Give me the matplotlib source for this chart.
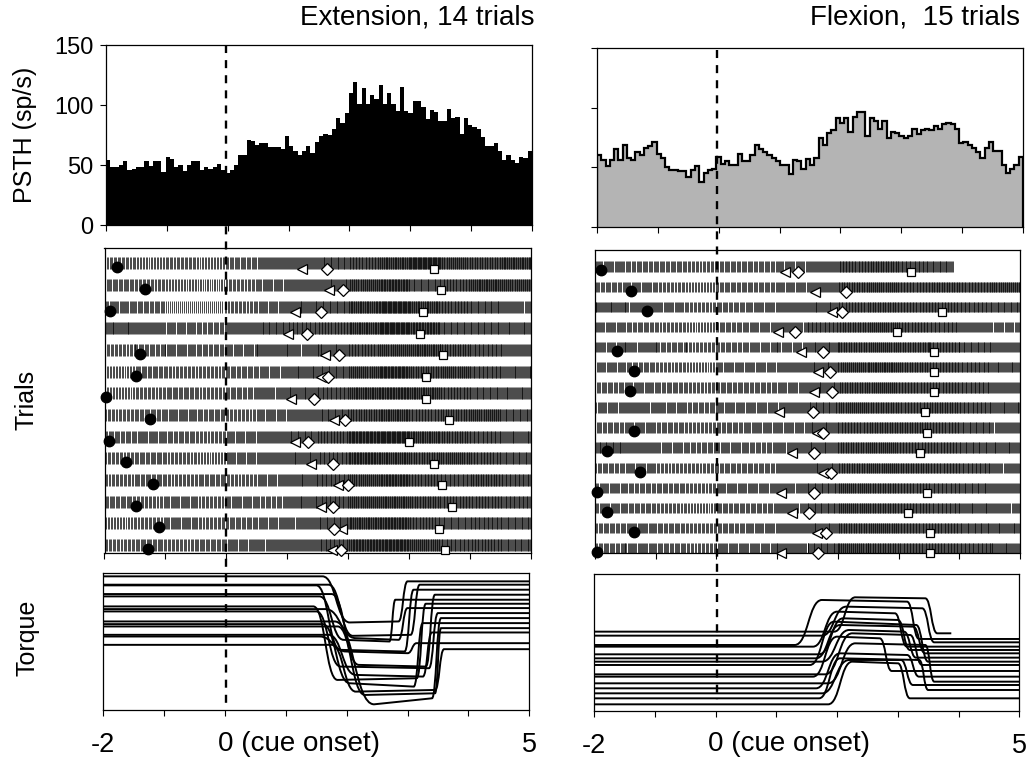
import numpy as np
import matplotlib
matplotlib.use('Agg')
import matplotlib.pyplot as plt
from matplotlib.path import Path
from matplotlib.patches import PathPatch
from matplotlib.lines import Line2D

plt.rcParams['font.family'] = ['Liberation Sans', 'DejaVu Sans']

# ---------------- data ----------------
T0, T1 = -2.0, 5.0

ext_psth = [54, 48, 48, 50, 53, 46, 47, 48, 48, 53, 49, 53, 53, 44, 57, 55, 48, 50, 45, 50,
            53, 53, 46, 48, 47, 48, 51, 46, 43, 46, 50, 58, 58, 71, 70, 67, 68, 68, 65, 65,
            65, 63, 74, 66, 62, 58, 62, 66, 60, 69, 74, 76, 75, 80, 89, 85, 93, 110, 119, 101,
            114, 101, 108, 105, 117, 101, 110, 101, 95, 115, 95, 93, 103, 103, 98, 88, 96, 94, 87, 87,
            97, 89, 90, 76, 89, 83, 82, 80, 73, 66, 66, 68, 62, 54, 58, 54, 52, 57, 56, 62]

flx_psth = [60, 56, 51, 56, 65, 56, 69, 58, 56, 63, 60, 66, 68, 71, 61, 58, 50, 48, 48, 47,
            47, 42, 48, 51, 38, 45, 48, 49, 59, 53, 55, 52, 52, 61, 55, 55, 60, 69, 65, 63,
            60, 58, 55, 52, 52, 44, 56, 55, 49, 57, 52, 58, 75, 69, 79, 81, 91, 87, 91, 80,
            92, 96, 96, 76, 91, 89, 82, 89, 75, 80, 79, 76, 75, 76, 82, 78, 81, 82, 81, 85,
            82, 86, 87, 86, 82, 70, 71, 69, 66, 63, 58, 66, 71, 64, 64, 52, 45, 49, 52, 59]

# behavioural events per trial (s re cue onset); nan = not shown
ext_circle = [-1.80, -1.34, -1.91, np.nan, -1.41, -1.48, -1.97, -1.26, -1.92, -1.64, -1.21, -1.49, -1.10, -1.29]
ext_tri = [1.24, 1.69, 1.12, 1.01, 1.62, 1.55, 1.06, 1.77, 1.13, 1.39, 1.83, 1.55, 1.90, 1.74]
ext_dia = [1.66, 1.92, 1.55, 1.32, 1.85, 1.67, 1.44, 1.95, 1.34, 1.75, 1.99, 1.75, 1.76, 1.88]
ext_sq = [3.41, 3.52, 3.23, 3.18, 3.56, 3.28, 3.28, 3.66, 2.99, 3.40, 3.54, 3.71, 3.49, 3.59]

flx_circle = [-1.90, -1.40, -1.14, np.nan, -1.64, -1.36, -1.42, np.nan, -1.36, -1.81, -1.26, -1.97, -1.81, -1.36, -1.97]
flx_tri = [1.13, 1.62, 1.91, 1.02, 1.40, 1.68, 1.61, 1.03, 1.66, 1.24, 1.76, 1.06, 1.25, 1.66, 1.06]
flx_dia = [1.35, 2.14, 2.06, 1.29, 1.76, 1.87, 1.91, 1.59, 1.75, 1.61, 1.88, 1.60, 1.52, 1.80, 1.68]
flx_sq = [3.21, np.nan, 3.71, 2.98, 3.58, 3.58, 3.58, 3.43, 3.47, 3.36, np.nan, 3.47, 3.15, 3.52, 3.52]
flx_end = [3.90] + [5.0] * 14

# per-trial firing rate (sp/s) in 0.5 s segments from -2 to 5 (read from raster darkness)
ext_rates = [
    [45, 40, 45, 40, 50, 60, 60, 70, 80, 95, 110, 90, 85, 95],
    [50, 45, 40, 35, 45, 55, 60, 65, 90, 100, 70, 80, 95, 90],
    [55, 50, 30, 30, 45, 55, 65, 70, 95, 110, 95, 80, 70, 60],
    [65, 60, 55, 50, 60, 70, 75, 80, 95, 110, 100, 70, 70, 65],
    [45, 50, 55, 50, 55, 60, 60, 65, 80, 90, 95, 85, 75, 60],
    [40, 50, 45, 45, 50, 55, 65, 70, 90, 105, 85, 90, 75, 65],
    [40, 45, 50, 45, 50, 60, 65, 75, 95, 100, 95, 80, 70, 65],
    [45, 50, 55, 50, 45, 55, 60, 70, 85, 95, 80, 85, 90, 70],
    [50, 55, 50, 45, 55, 60, 70, 80, 105, 110, 95, 85, 75, 65],
    [45, 50, 45, 40, 55, 60, 65, 75, 100, 95, 85, 90, 80, 70],
    [45, 50, 45, 50, 45, 55, 65, 75, 90, 100, 80, 75, 85, 75],
    [50, 45, 55, 45, 55, 50, 65, 75, 90, 95, 85, 80, 80, 75],
    [40, 45, 55, 45, 50, 55, 60, 70, 95, 100, 80, 70, 75, 70],
    [45, 50, 45, 50, 55, 60, 60, 75, 100, 105, 90, 75, 80, 70],
]
flx_rates = [
    [55, 50, 50, 45, 50, 50, 55, 60, 80, 85, 75, 70, 0, 0],
    [50, 55, 45, 40, 50, 50, 55, 60, 85, 90, 80, 85, 80, 90],
    [65, 60, 55, 45, 50, 55, 60, 65, 80, 85, 80, 80, 75, 70],
    [55, 50, 45, 40, 50, 55, 60, 75, 85, 90, 80, 75, 60, 55],
    [55, 60, 50, 45, 50, 55, 55, 65, 85, 90, 85, 80, 70, 60],
    [55, 50, 45, 40, 55, 55, 60, 65, 90, 95, 85, 80, 75, 65],
    [50, 55, 50, 45, 50, 50, 55, 65, 85, 90, 80, 80, 75, 60],
    [55, 60, 55, 50, 55, 55, 60, 70, 90, 85, 80, 85, 75, 65],
    [50, 55, 50, 45, 50, 55, 55, 65, 80, 85, 85, 80, 70, 60],
    [70, 60, 55, 50, 55, 50, 60, 65, 85, 90, 80, 80, 70, 65],
    [50, 55, 45, 45, 50, 50, 60, 65, 85, 90, 85, 80, 75, 60],
    [55, 50, 50, 45, 55, 55, 60, 70, 90, 85, 80, 75, 70, 60],
    [55, 50, 45, 40, 50, 50, 60, 70, 90, 85, 80, 75, 65, 60],
    [50, 55, 50, 45, 50, 55, 60, 65, 85, 90, 80, 80, 70, 65],
    [50, 55, 50, 45, 55, 55, 60, 70, 90, 85, 80, 80, 75, 65],
]

# torque traces: baseline, move start, move end, level at move end, return start,
# return end, level before return, final level (arbitrary units)
ext_torque = [
    (400, 1.60, 2.05, 262, 2.85, 3.00, 265, 385),
    (375, 1.70, 2.10, 222, 3.05, 3.20, 225, 375),
    (373, 1.50, 1.90, 180, 2.95, 3.10, 175, 360),
    (347, 1.75, 2.20, 135, 3.30, 3.45, 130, 345),
    (340, 1.55, 1.95, 210, 2.70, 2.80, 205, 330),
    (310, 1.45, 1.85, 90, 3.15, 3.30, 95, 318),
    (302, 1.65, 2.15, 215, 2.85, 3.00, 210, 305),
    (295, 1.50, 1.90, 130, 3.35, 3.50, 125, 290),
    (265, 1.80, 2.45, 17, 3.40, 3.55, 35, 275),
    (257, 1.60, 2.05, 80, 3.10, 3.25, 70, 260),
    (250, 1.85, 2.30, 45, 3.45, 3.55, 50, 245),
    (225, 1.70, 2.15, 105, 3.25, 3.40, 100, 232),
    (220, 1.55, 2.00, 175, 3.00, 3.15, 170, 200),
    (195, 1.75, 2.15, 55, 3.45, 3.60, 60, 182),
]
flx_torque = [
    (235, 1.95, 2.30, 338, 3.45, 3.65, 335, 230),
    (195, 1.30, 1.75, 330, 3.15, 3.35, 325, 213),
    (223, 1.75, 2.15, 310, 3.40, 3.60, 305, 203),
    (190, 1.60, 2.00, 295, 2.95, 3.15, 290, 190),
    (167, 1.70, 2.10, 275, 3.00, 3.20, 270, 180),
    (155, 1.65, 2.05, 255, 3.25, 3.45, 250, 170),
    (145, 1.75, 2.20, 240, 3.10, 3.30, 235, 157),
    (135, 1.55, 1.95, 265, 3.30, 3.50, 255, 145),
    (107, 1.80, 2.25, 230, 3.20, 3.40, 225, 135),
    (100, 1.60, 2.00, 220, 2.70, 2.90, 215, 117),
    (80, 1.85, 2.30, 200, 3.45, 3.60, 195, 85),
    (65, 1.65, 2.05, 170, 3.15, 3.35, 165, 100),
    (50, 1.75, 2.20, 150, 3.05, 3.25, 150, 75),
    (35, 1.70, 2.05, 155, 3.35, 3.50, 150, 60),
    (17, 1.85, 2.25, 145, 3.00, 3.20, 140, 35),
]
flx_torque_end = [3.88] + [5.0] * 14

# ---------------- figure ----------------
W, H = 1027, 763
fig = plt.figure(figsize=(W / 100, H / 100), dpi=100)


def px_axes(x0, y0, x1, y1):
    return fig.add_axes([x0 / W, 1 - y1 / H, (x1 - x0) / W, (y1 - y0) / H])


edges = np.linspace(T0, T1, len(ext_psth) + 1)

ax_pe = px_axes(106, 45, 532, 225)
ax_pf = px_axes(597, 48, 1023, 227)
ax_re = px_axes(104.5, 248, 531, 553)
ax_rf = px_axes(595, 250, 1020, 553)
ax_te = px_axes(103.3, 573, 529.3, 710)
ax_tf = px_axes(594.3, 574.3, 1019.3, 711)

for ax in (ax_pe, ax_pf, ax_re, ax_rf, ax_te, ax_tf):
    ax.set_xlim(T0, T1)
    ax.set_xticks(np.arange(-2, 6, 1))
    ax.tick_params(axis='x', direction='out', length=4, width=0.8, labelbottom=False)
    for s in ax.spines.values():
        s.set_linewidth(0.9)

# PSTHs
ax_pe.stairs(ext_psth, edges, fill=True, color='black', baseline=0)
ax_pf.stairs(flx_psth, edges, fill=True, color='#b4b4b4', baseline=0)
ax_pf.stairs(flx_psth, edges, fill=False, color='black', baseline=0, linewidth=1.6)
for ax in (ax_pe, ax_pf):
    ax.set_ylim(0, 150)
    ax.set_yticks([0, 50, 100, 150])
    ax.tick_params(axis='y', direction='out', length=4, width=0.8)
ax_pe.tick_params(axis='y', labelsize=17, pad=5)
ax_pf.tick_params(axis='y', labelleft=False)


# rasters
def spike_times(rates, t_end, phase):
    seg = np.linspace(T0, T1, len(rates) + 1)
    out = []
    acc = phase
    for r, a, b in zip(rates, seg[:-1], seg[1:]):
        b = min(b, t_end)
        if b <= a or r <= 0:
            continue
        n_total = acc + r * (b - a)
        k = np.arange(np.ceil(acc), np.floor(n_total) + 1)
        out.extend(a + (k - acc) / r)
        acc = n_total
    return np.array(out)


def raster(ax, rates, ends, circ, tri, dia, sq, half, off):
    n = len(rates)
    for i in range(n):
        row = i + 1
        st = spike_times(rates[i], ends[i], 0.3 + 0.05 * i)
        ax.vlines(st, row - half, row + half, color='black', linewidth=0.5)
    rows = np.arange(1, n + 1)
    ax.plot(circ, rows + off * 0.75, 'o', color='black', ms=7.5, clip_on=False, zorder=5)
    ax.plot(tri, rows + off, '<', mfc='white', mec='black', mew=0.9, ms=7.5, zorder=5, clip_on=False)
    ax.plot(dia, rows + off, 'D', mfc='white', mec='black', mew=0.9, ms=6, zorder=5, clip_on=False)
    ax.plot(sq, rows + off, 's', mfc='white', mec='black', mew=0.9, ms=5.5, zorder=5, clip_on=False)
    ax.set_yticks([])


raster(ax_re, ext_rates, [5.0] * 14, ext_circle, ext_tri, ext_dia, ext_sq, 0.28, 0.25)
ax_re.set_ylim(14.37, 0.29)
raster(ax_rf, flx_rates, flx_end, flx_circle, flx_tri, flx_dia, flx_sq, 0.26, 0.25)
ax_rf.set_ylim(15.24, 0.17)


# torque
def torque_path(p, t_end=5.0):
    b, ta, tb, la, tc, td, lc, f = p
    ma = (ta + tb) / 2
    mc = (tc + td) / 2
    verts = [(T0, b), (ta, b), (ma, b), (ma, la), (tb, la), (tc, lc),
             (mc, lc), (mc, f), (td, f), (t_end, f)]
    codes = [Path.MOVETO, Path.LINETO, Path.CURVE4, Path.CURVE4, Path.CURVE4,
             Path.LINETO, Path.CURVE4, Path.CURVE4, Path.CURVE4, Path.LINETO]
    return Path(verts, codes)


for p in ext_torque:
    ax_te.add_patch(PathPatch(torque_path(p), fill=False, lw=1.4, ec='black'))
ax_te.set_ylim(0, 410)
for p, e in zip(flx_torque, flx_torque_end):
    ax_tf.add_patch(PathPatch(torque_path(p, e), fill=False, lw=1.4, ec='black'))
ax_tf.set_ylim(-3, 407)
for ax in (ax_te, ax_tf):
    ax.set_yticks([])
    ax.tick_params(axis='x', labelbottom=True, labelsize=19.5, pad=12)
    ax.set_xticklabels(['-2', '', '', '', '', '', '', '5'])
    ax.text(-0.12, -0.245, '0 (cue onset)', transform=ax.get_xaxis_transform(),
            ha='left', va='center', fontsize=20)

# dashed cue line spanning panels
for x, y0, y1 in ((226.0, 45, 708), (717.0, 50, 700)):
    fig.add_artist(Line2D([x / W, x / W], [1 - y0 / H, 1 - y1 / H], transform=fig.transFigure,
                          color='black', lw=1.7, dashes=(3.4, 3.0)))

# labels
fig.text(535 / W, 1 - 17 / H, 'Extension, 14 trials', ha='right', va='center', fontsize=20)
fig.text(1020 / W, 1 - 17 / H, 'Flexion,  15 trials', ha='right', va='center', fontsize=20)
fig.text(25 / W, 1 - 135 / H, 'PSTH (sp/s)', rotation=90, ha='center', va='center', fontsize=18)
fig.text(27 / W, 1 - 400 / H, 'Trials', rotation=90, ha='center', va='center', fontsize=18)
fig.text(27 / W, 1 - 638 / H, 'Torque', rotation=90, ha='center', va='center', fontsize=18)

fig.savefig('out.png', dpi=100)
